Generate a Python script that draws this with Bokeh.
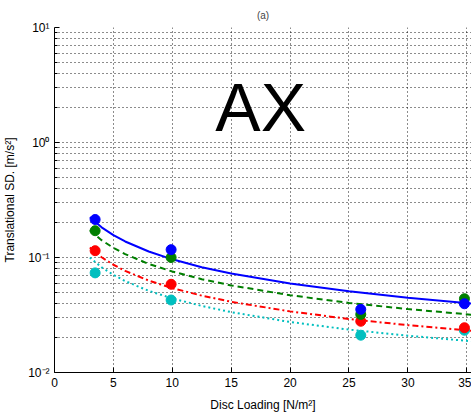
from bokeh.plotting import figure
from bokeh.models import FixedTicker, Label, Range1d
from bokeh.embed import file_html
from bokeh.resources import INLINE

# measured data points
x_pts = [3.45, 9.9, 26.0, 34.8]
blue_pts = [0.214, 0.117, 0.0354, 0.0396]
green_pts = [0.171, 0.100, 0.032, 0.0438]
red_pts = [0.1146, 0.0585, 0.0279, 0.0245]
cyan_pts = [0.0735, 0.0427, 0.0211, 0.0233]

# fitted curves
x_fit = [3.0, 4, 5, 6, 8, 10, 12.5, 15, 20, 25, 30, 35.4]
blue_fit = [0.2238, 0.1830, 0.1565, 0.1378, 0.1127, 0.0964, 0.0824, 0.0726, 0.0593, 0.0508, 0.0447, 0.0398]
green_fit = [0.1722, 0.1414, 0.1214, 0.1071, 0.0879, 0.0755, 0.0648, 0.0572, 0.0470, 0.0403, 0.0356, 0.0318]
red_fit = [0.122, 0.1005, 0.0865, 0.0765, 0.0630, 0.0542, 0.0466, 0.0412, 0.0340, 0.0292, 0.0258, 0.0231]
cyan_fit = [0.100, 0.0822, 0.0707, 0.0624, 0.0513, 0.0441, 0.0379, 0.0335, 0.0275, 0.0236, 0.0209, 0.0187]

x_ticks = [0, 5, 10, 15, 20, 25, 30, 35]
y_ticks = [0.01, 0.1, 1, 10]
y_tick_labels = ["10\u207b\u00b2", "10\u207b\u00b9", "10\u2070", "10\u00b9"]

FONT = "Liberation Sans"

p = figure(width=471, height=414, y_axis_type="log",
           x_range=Range1d(0, 35.4), y_range=Range1d(0.01, 10),
           output_backend="svg", toolbar_location=None,
           min_border_left=0, min_border_right=0, min_border_bottom=0, min_border_top=0)
p.title.text = "(a)"
p.title.align = "center"
p.title.text_font = FONT
p.title.text_font_size = "10px"
p.title.text_font_style = "normal"
p.title.standoff = 14
p.outline_line_color = None
p.background_fill_color = "white"
p.border_fill_color = "white"

minor = [m * d for d in [0.01, 0.1, 1] for m in range(2, 10)]
p.yaxis.ticker = FixedTicker(ticks=y_ticks, minor_ticks=minor)
p.xaxis.ticker = FixedTicker(ticks=x_ticks)
p.yaxis.major_label_overrides = {t: l for t, l in zip(y_ticks, y_tick_labels)}

for ax in (p.xaxis, p.yaxis):
    ax.axis_line_color = "black"
    ax.axis_line_width = 1
    ax.major_tick_in = 5
    ax.major_tick_out = 0
    ax.minor_tick_in = 3
    ax.minor_tick_out = 0
    ax.major_tick_line_color = "black"
    ax.minor_tick_line_color = "black"
    ax.major_label_text_font = FONT
    ax.major_label_text_font_size = "12px"
    ax.major_label_text_color = "black"
    ax.axis_label_text_font = FONT
    ax.axis_label_text_font_size = "12px"
    ax.axis_label_text_font_style = "normal"
    ax.axis_label_text_color = "black"

p.xaxis.axis_label = "Disc Loading [N/m\u00b2]"
p.yaxis.axis_label = "Translational SD. [m/s\u00b2]"
p.xaxis.major_label_standoff = 5
p.yaxis.major_label_standoff = 5
p.xaxis.axis_label_standoff = 8
p.yaxis.axis_label_standoff = 8

for g in (p.xgrid, p.ygrid):
    g.grid_line_color = "black"
    g.grid_line_dash = "1 3"
    g.grid_line_width = 1
    g.grid_line_alpha = 0.9
p.ygrid.minor_grid_line_color = "black"
p.ygrid.minor_grid_line_dash = "1 3"
p.ygrid.minor_grid_line_alpha = 0.9

p.line(x_fit, cyan_fit, color="#00BFBF", line_width=2, line_dash="2 3")
p.line(x_fit, red_fit, color="#FF0000", line_width=2, line_dash="6 3 2 3")
p.line(x_fit, green_fit, color="#007F00", line_width=2, line_dash="6 4")
p.line(x_fit, blue_fit, color="#0000FF", line_width=2)

for ys, c in [(cyan_pts, "#00BFBF"), (red_pts, "#FF0000"), (green_pts, "#007F00"), (blue_pts, "#0000FF")]:
    p.scatter(x_pts, ys, size=10, color=c, marker="circle")

p.add_layout(Label(x=17.5, y=2.04, text="AX", text_font=FONT, text_font_size="68px",
                   text_align="center", text_baseline="alphabetic", text_color="black"))

open("out.html", "w").write(file_html(p, INLINE))
